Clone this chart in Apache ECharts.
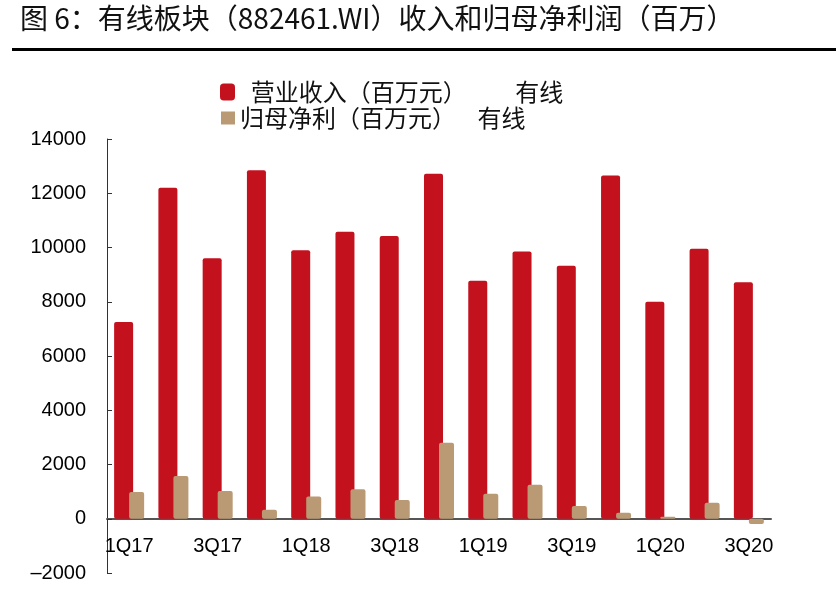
<!DOCTYPE html>
<html>
<head>
<meta charset="utf-8">
<script src="https://cdn.jsdelivr.net/npm/echarts@6/dist/echarts.min.js"></script>
<style>
  html, body { margin: 0; padding: 0; background: #fff; }
  #main { width: 836px; height: 616px; }
</style>
</head>
<body>
<div id="main"></div>
<script>
// quarters on the x axis
var quarters = ['1Q17', '2Q17', '3Q17', '4Q17', '1Q18', '2Q18', '3Q18', '4Q18',
                '1Q19', '2Q19', '3Q19', '4Q19', '1Q20', '2Q20', '3Q20'];
// 营业收入（百万元）
var revenue = [7250, 12200, 9600, 12850, 9900, 10580, 10420, 12720,
               8770, 9850, 9330, 12650, 8000, 9950, 8720];
// 归母净利（百万元）
var netProfit = [990, 1580, 1020, 330, 820, 1090, 690, 2800,
                 920, 1250, 470, 220, 70, 590, -190];

var revName = '  营业收入（百万元）         有线';
var profitName = '归母净利（百万元）    有线';

var myChart = echarts.init(document.getElementById('main'));

var legendText = { fontFamily: 'Noto Sans CJK SC', fontSize: 24, color: '#111' };

var option = {
  animation: false,
  title: {
    text: '图 6：有线板块（882461.WI）收入和归母净利润（百万）',
    left: 20,
    top: 4,
    padding: 0,
    textStyle: {
      fontFamily: 'Noto Sans CJK SC',
      fontSize: 28,
      fontWeight: 'normal',
      color: '#111'
    }
  },
  graphic: [{
    type: 'rect',
    shape: { x: 12, y: 48, width: 824, height: 3 },
    style: { fill: '#000' }
  }],
  legend: [
    {
      data: [revName],
      left: 220,
      top: 80,
      padding: 0,
      itemWidth: 15,
      itemHeight: 17,
      icon: 'roundRect',
      textStyle: legendText
    },
    {
      data: [profitName],
      left: 221,
      top: 106,
      padding: 0,
      itemWidth: 14,
      itemHeight: 13,
      icon: 'rect',
      textStyle: legendText
    }
  ],
  grid: {
    left: 107,
    right: 65,
    top: 139,
    bottom: 43,
    containLabel: false
  },
  xAxis: {
    type: 'category',
    data: quarters,
    axisLine: { onZero: true, lineStyle: { color: '#555', width: 2 } },
    axisTick: { inside: true, length: 7, interval: 0, lineStyle: { color: '#333' } },
    axisLabel: {
      interval: 1,
      margin: -37,
      fontFamily: 'Liberation Sans',
      fontSize: 20,
      color: '#000'
    }
  },
  yAxis: {
    type: 'value',
    min: -2000,
    max: 14000,
    interval: 2000,
    splitLine: { show: false },
    axisLine: { show: true, lineStyle: { color: '#333', width: 1 } },
    axisTick: { show: true, inside: true, length: 5, lineStyle: { color: '#333' } },
    axisLabel: {
      margin: 21,
      fontFamily: 'Liberation Sans',
      fontSize: 20,
      color: '#000',
      formatter: function (v) { return v < 0 ? '–' + Math.abs(v) : String(v); }
    }
  },
  series: [
    {
      name: revName,
      type: 'bar',
      data: revenue,
      barWidth: 19,
      barGap: '-21%',
      itemStyle: { color: '#C3111E', borderRadius: 2 }
    },
    {
      name: profitName,
      type: 'bar',
      data: netProfit,
      barWidth: 15,
      itemStyle: { color: '#B99A74', borderRadius: 2 }
    }
  ]
};

myChart.setOption(option);
</script>
</body>
</html>
